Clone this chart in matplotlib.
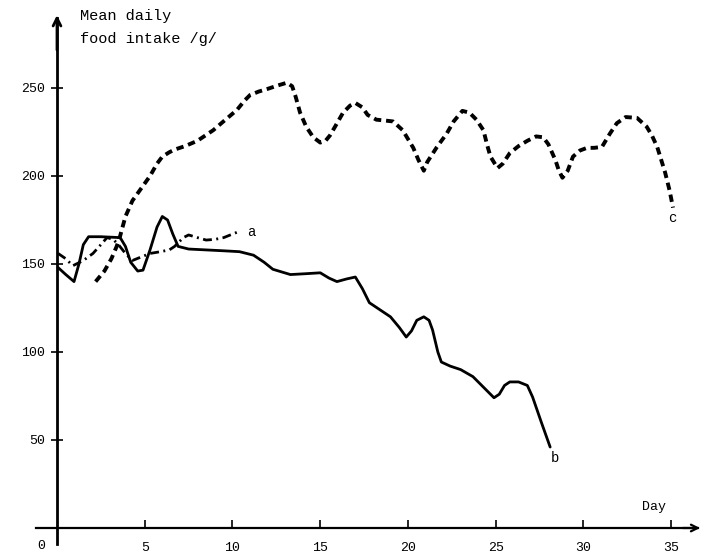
import matplotlib
matplotlib.use("Agg")
import matplotlib.pyplot as plt

plt.rcParams['font.family'] = ['Liberation Mono', 'DejaVu Sans Mono']

# ---- data ----
a_day = [0.06, 0.5, 0.9, 1.5, 2.05, 2.5, 2.85, 3.2, 3.5, 3.9, 4.3, 4.8, 5.3,
         5.9, 6.4, 6.7, 6.9, 7.2, 7.5, 8.0, 8.5, 9.0, 9.5, 10.25]
a_val = [156, 153, 149, 152, 156, 161, 165, 164, 161, 156, 152, 154, 156,
         157, 158, 160, 162, 165, 166.5, 165, 163.6, 164, 165, 168]

b_day = [0.06, 0.5, 0.97, 1.25, 1.5, 1.8, 2.5, 3.6, 3.9, 4.2, 4.6, 4.9, 5.3,
         5.7, 6.0, 6.3, 6.6, 6.9, 7.5, 8.5, 9.5, 10.4, 11.2, 11.8, 12.3, 13.3,
         14.2, 15.0, 15.5, 15.95, 16.5, 17.0, 17.4, 17.8, 18.4, 19.0, 19.5,
         19.9, 20.2, 20.5, 20.9, 21.2, 21.4, 21.7, 21.9, 22.4, 23.0, 23.7,
         24.3, 24.9, 25.2, 25.5, 25.8, 26.3, 26.8, 27.1, 27.6, 28.1]
b_val = [148, 144, 140, 150, 161, 165.5, 165.5, 165, 160, 151, 146, 146.5, 158,
         171, 177, 175, 167, 160, 158.5, 158, 157.5, 157, 155, 151, 147, 144,
         144.5, 145, 142, 140, 141.5, 142.6, 136, 128, 124, 120, 114,
         108.5, 112, 118, 120, 118, 112.5, 100, 94.3, 92, 90, 86,
         80, 74, 76, 81, 83, 83, 81, 74.4, 60, 46]

c_day = [2.2, 2.7, 3.1, 3.4, 3.6, 3.9, 4.3, 4.8, 5.3, 5.7, 6.0, 6.4, 6.7, 7.3,
         8.0, 8.9, 9.6, 10.25, 10.7, 11.0, 11.5, 12.0, 12.6, 13.1, 13.4, 13.6,
         13.85, 14.2, 14.6, 15.0, 15.3, 15.55, 15.9, 16.3, 16.7, 17.0, 17.4,
         17.7, 18.2, 18.7, 19.15, 19.7, 20.3, 20.6, 20.9, 21.1, 21.65, 22.2,
         22.6, 23.1, 23.5, 23.9, 24.3, 24.5, 24.7, 25.1, 25.4, 25.8, 26.3,
         26.8, 27.3, 27.7, 28.0, 28.4, 28.6, 28.8, 29.1, 29.4, 29.8, 30.2,
         30.6, 31.05, 31.5, 31.9, 32.4, 33.05, 33.6, 33.9, 34.2, 34.65, 34.9,
         35.1]
c_val = [140, 146, 153, 160, 166, 177, 186, 193, 200, 207, 211, 213.5, 215, 217,
         220, 226, 232, 237.5, 243, 246, 248, 249.5, 251.5, 253, 251, 245,
         236, 228, 222, 219, 220, 223, 229, 236, 240, 241.5, 239,
         234.7, 232, 231.5, 231, 226, 216, 209, 203, 208, 216.5, 224,
         231, 237, 236, 232, 226, 218, 211, 204.5, 207, 213, 217,
         220, 222.5, 222, 218, 209, 203, 199, 203, 211, 214.5, 216,
         216, 216.5, 224, 230, 233.5, 233, 228, 223, 216.5, 202, 192,
         182]

x_ticks = [5, 10, 15, 20, 25, 30, 35]
y_ticks = [50, 100, 150, 200, 250]

# ---- figure ----
W, H, DPI = 704, 559, 100
fig = plt.figure(figsize=(W / DPI, H / DPI), dpi=DPI)
ax = fig.add_axes([0, 0, 1, 1])
# pixel mapping: px = 57 + 17.55*day ; py = 528 - 1.76*val
ax.set_xlim(-57 / 17.55, (W - 57) / 17.55)
ax.set_ylim((528 - H) / 1.76, 528 / 1.76)
ax.patch.set_alpha(0)

for s in ['top', 'right']:
    ax.spines[s].set_visible(False)
ax.spines['left'].set_position(('data', 0))
ax.spines['bottom'].set_position(('data', 0))
ax.spines['left'].set_bounds(-9, 290)
ax.spines['bottom'].set_bounds(-1.2, 36.5)
ax.spines['left'].set_linewidth(2.0)
ax.spines['bottom'].set_linewidth(1.6)

ax.set_xticks(x_ticks)
ax.set_xticklabels([str(t) for t in x_ticks])
ax.set_yticks(y_ticks)
ax.set_yticklabels([str(t) for t in y_ticks])
ax.tick_params(axis='x', direction='in', length=6, width=1.2, pad=10, labelsize=9.5)
ax.tick_params(axis='y', direction='inout', length=9, width=1.2, pad=4, labelsize=9.5)

# arrows on axes
ax.annotate('', xy=(0, 293), xytext=(0, 270),
            arrowprops=dict(arrowstyle='->', lw=2.0, color='black', mutation_scale=14))
ax.annotate('', xy=(36.8, 0), xytext=(35.5, 0),
            arrowprops=dict(arrowstyle='->', lw=1.6, color='black', mutation_scale=12))

# curves
ax.plot(b_day, b_val, color='black', lw=2.0, solid_joinstyle='round',
        solid_capstyle='round')
ax.plot(a_day, a_val, color='black', lw=2.0, linestyle=(0, (3.2, 1.6, 0.7, 1.6)))
ax.plot(c_day, c_val, color='black', lw=2.8, linestyle=(0, (1.9, 1.25)))

# labels
ax.text(-0.9, -10, '0', ha='center', va='center', fontsize=9.5)
ax.text(34, 12, 'Day', ha='center', va='center', fontsize=9.5)
ax.text(1.3, 291, 'Mean daily', ha='left', va='center', fontsize=11)
ax.text(1.3, 278, 'food intake /g/', ha='left', va='center', fontsize=11)
ax.text(11.05, 168, 'a', ha='center', va='center', fontsize=10)
ax.text(28.4, 40, 'b', ha='center', va='center', fontsize=10)
ax.text(35.05, 176, 'c', ha='center', va='center', fontsize=10)

fig.savefig('out.png', dpi=DPI)
